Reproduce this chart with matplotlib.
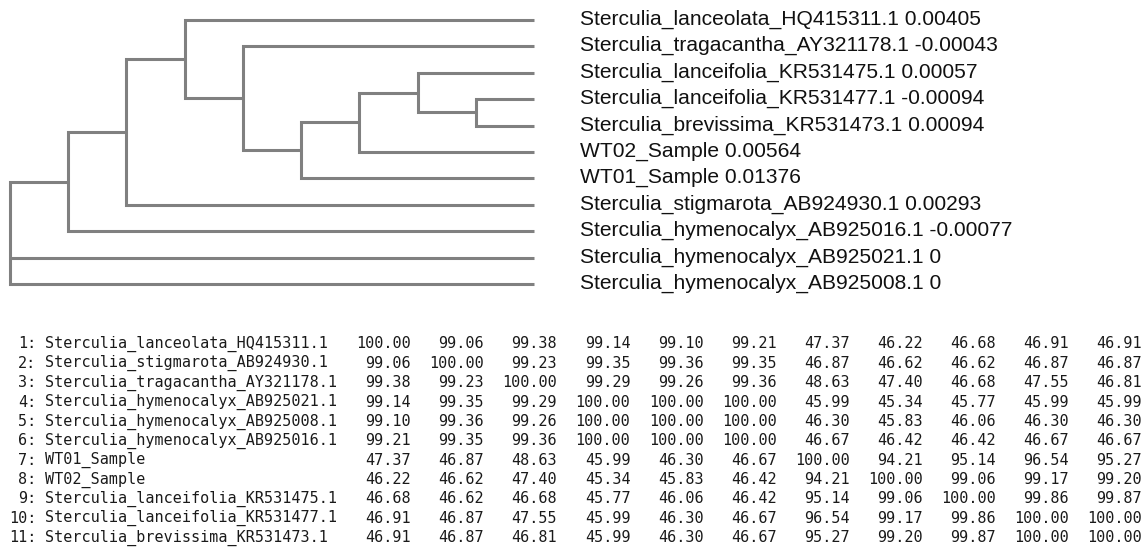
import matplotlib
matplotlib.use("Agg")
import matplotlib.pyplot as plt

# ---------------- data ----------------
leaf_names = [
    "Sterculia_lanceolata_HQ415311.1",
    "Sterculia_tragacantha_AY321178.1",
    "Sterculia_lanceifolia_KR531475.1",
    "Sterculia_lanceifolia_KR531477.1",
    "Sterculia_brevissima_KR531473.1",
    "WT02_Sample",
    "WT01_Sample",
    "Sterculia_stigmarota_AB924930.1",
    "Sterculia_hymenocalyx_AB925016.1",
    "Sterculia_hymenocalyx_AB925021.1",
    "Sterculia_hymenocalyx_AB925008.1",
]
leaf_values = ["0.00405", "-0.00043", "0.00057", "-0.00094", "0.00094",
               "0.00564", "0.01376", "0.00293", "-0.00077", "0", "0"]
# tree topology (leaf indices)
tree = ((((0, (1, (((2, (3, 4)), 5), 6))), 7), 8), 9, 10)

table_names = [
    "Sterculia_lanceolata_HQ415311.1",
    "Sterculia_stigmarota_AB924930.1",
    "Sterculia_tragacantha_AY321178.1",
    "Sterculia_hymenocalyx_AB925021.1",
    "Sterculia_hymenocalyx_AB925008.1",
    "Sterculia_hymenocalyx_AB925016.1",
    "WT01_Sample",
    "WT02_Sample",
    "Sterculia_lanceifolia_KR531475.1",
    "Sterculia_lanceifolia_KR531477.1",
    "Sterculia_brevissima_KR531473.1",
]
identity = [
    [100.00, 99.06, 99.38, 99.14, 99.10, 99.21, 47.37, 46.22, 46.68, 46.91, 46.91],
    [99.06, 100.00, 99.23, 99.35, 99.36, 99.35, 46.87, 46.62, 46.62, 46.87, 46.87],
    [99.38, 99.23, 100.00, 99.29, 99.26, 99.36, 48.63, 47.40, 46.68, 47.55, 46.81],
    [99.14, 99.35, 99.29, 100.00, 100.00, 100.00, 45.99, 45.34, 45.77, 45.99, 45.99],
    [99.10, 99.36, 99.26, 100.00, 100.00, 100.00, 46.30, 45.83, 46.06, 46.30, 46.30],
    [99.21, 99.35, 99.36, 100.00, 100.00, 100.00, 46.67, 46.42, 46.42, 46.67, 46.67],
    [47.37, 46.87, 48.63, 45.99, 46.30, 46.67, 100.00, 94.21, 95.14, 96.54, 95.27],
    [46.22, 46.62, 47.40, 45.34, 45.83, 46.42, 94.21, 100.00, 99.06, 99.17, 99.20],
    [46.68, 46.62, 46.68, 45.77, 46.06, 46.42, 95.14, 99.06, 100.00, 99.86, 99.87],
    [46.91, 46.87, 47.55, 45.99, 46.30, 46.67, 96.54, 99.17, 99.86, 100.00, 100.00],
    [46.91, 46.87, 46.81, 45.99, 46.30, 46.67, 95.27, 99.20, 99.87, 100.00, 100.00],
]

# ---------------- figure ----------------
W, H = 1148, 547
fig = plt.figure(figsize=(W / 100, H / 100), dpi=100)
fig.patch.set_facecolor("white")

LINE_COLOR = "#808080"
LW = 2.2

# tree axes: depth 0..9 mapped to px 10..534, leaves 0..10 to px 20..284
tx0, tx1, ty0, ty1 = 10, 534, 20, 284
tax = fig.add_axes([tx0 / W, 1 - ty1 / H, (tx1 - tx0) / W, (ty1 - ty0) / H])
tax.set_xlim(0, 9)
tax.set_ylim(len(leaf_names) - 1, 0)
tax.axis("off")

MAXD = 9


def draw(node, depth):
    """returns (x, y) of node"""
    if isinstance(node, int):
        return MAXD, node
    kids = [draw(c, depth + 1) for c in node]
    ys = [k[1] for k in kids]
    x = depth
    first, last = kids[0], kids[-1]
    tax.plot([first[0], x, x, last[0]], [first[1], first[1], last[1], last[1]],
             color=LINE_COLOR, lw=LW, solid_joinstyle="miter",
             solid_capstyle="butt", clip_on=False)
    for k in kids[1:-1]:
        tax.plot([x, k[0]], [k[1], k[1]], color=LINE_COLOR, lw=LW,
                 solid_capstyle="butt", clip_on=False)
    return x, sum(ys) / len(ys)


draw(tree, 0)

for i, (n, v) in enumerate(zip(leaf_names, leaf_values)):
    tax.annotate(f"{n} {v}", (MAXD, i), xytext=(46 * 0.72, 0.5),
                 textcoords="offset points", va="center", ha="left",
                 fontsize=15.15, family="Liberation Sans", color="#111111",
                 annotation_clip=False)

# table axes: character grid
CW = 9.14          # px per character
X0 = 8.8           # px of char 0
R0, RS = 344, 19.35  # px of row 0 center, row spacing
bax = fig.add_axes([0, 0, 1, 1])
bax.set_xlim(-X0 / CW, (W - X0) / CW)
bax.set_ylim((H - R0) / RS, -R0 / RS)
bax.axis("off")

mono = dict(family="DejaVu Sans Mono", fontsize=CW / 0.602 * 0.72,
            color="#1a1a1a", va="center")
for r, name in enumerate(table_names):
    bax.text(3, r, f"{r + 1}:", ha="right", **mono)
    bax.text(4, r, name, ha="left", **mono)
    for c, val in enumerate(identity[r]):
        bax.text(44 + 8 * c, r, f"{val:.2f}", ha="right", **mono)

fig.savefig("out.png", dpi=100, facecolor="white")
